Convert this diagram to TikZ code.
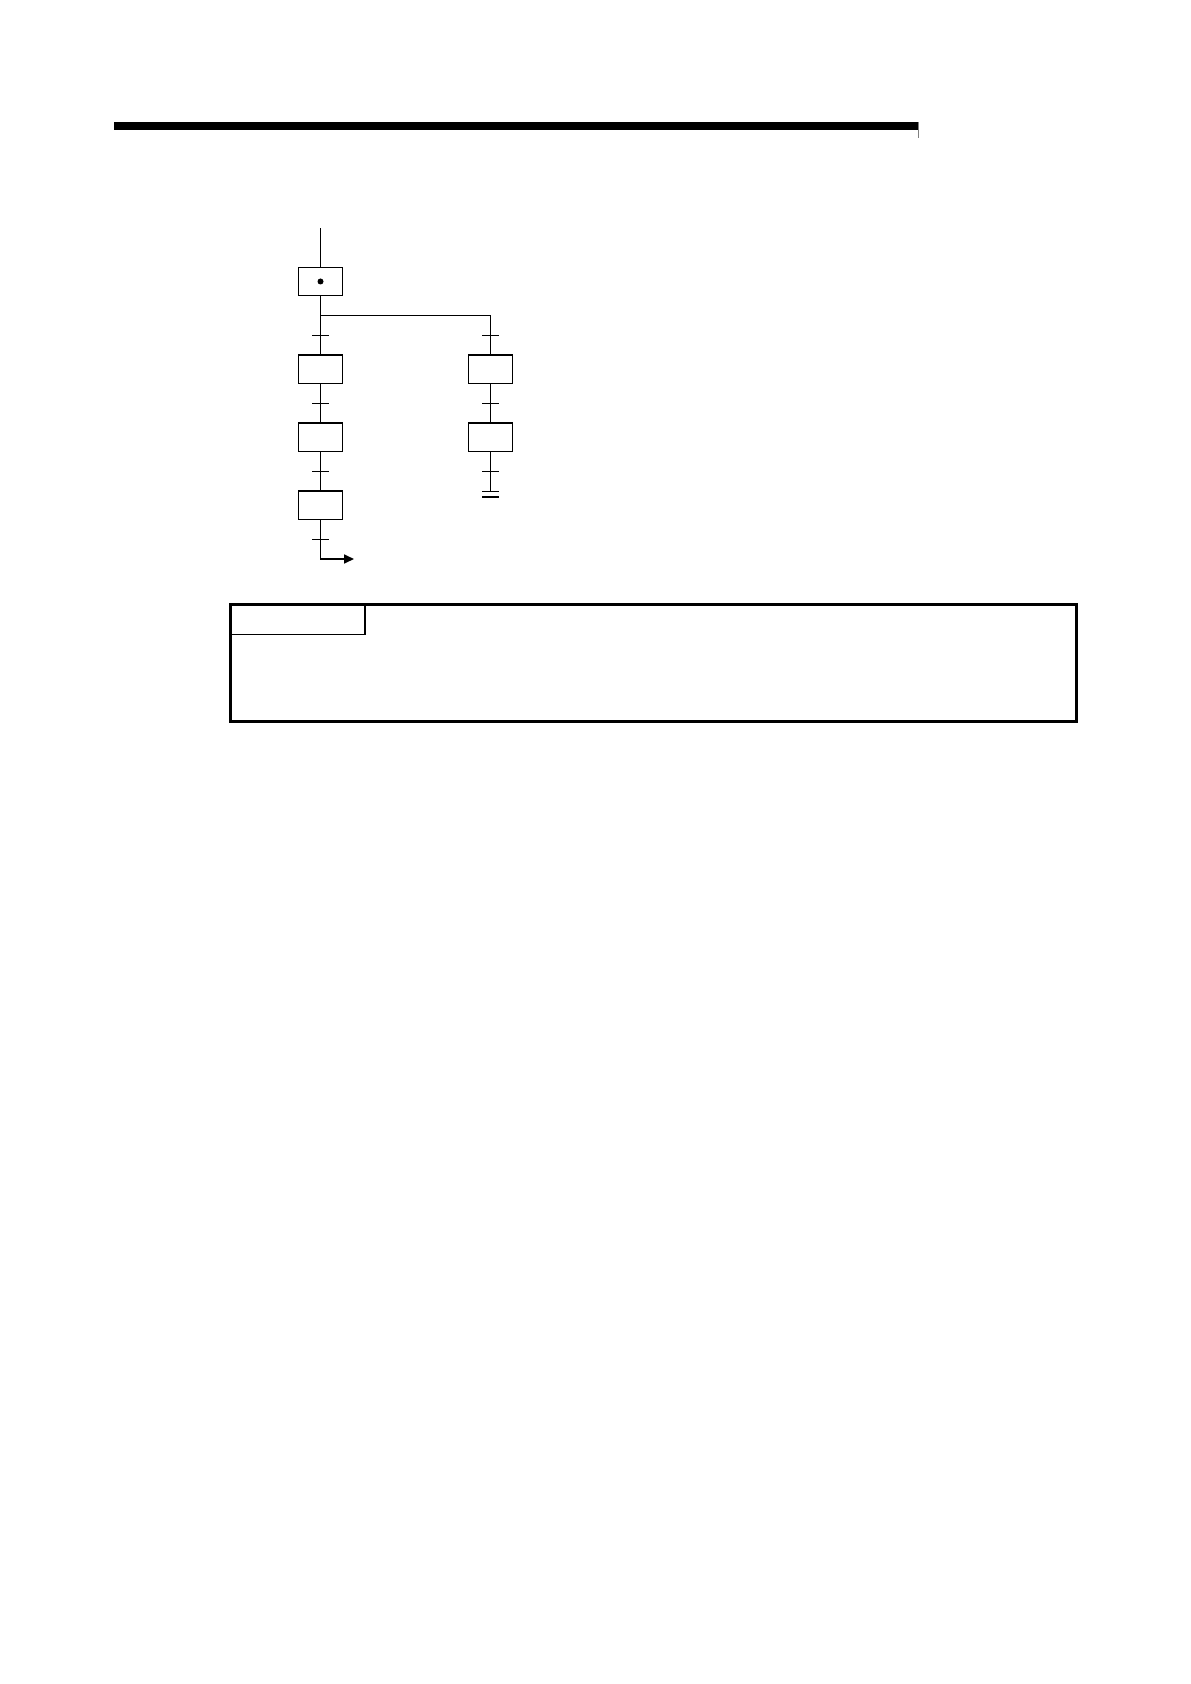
\documentclass[tikz,border=0pt]{standalone}
\usetikzlibrary{arrows.meta,calc}
\begin{document}
\begin{tikzpicture}[x=0.5pt,y=-0.5pt,
  stepbox/.style={draw,line width=0.7pt,rectangle,minimum width=22.2pt,minimum height=14.2pt,inner sep=0pt},
  link/.style={line width=0.75pt},
  tick/.style={line width=0.7pt}]
\useasboundingbox (0,0) rectangle (1190,1684);
% header bar
\fill (114,122) rectangle (918.3,130);
\draw[line width=0.5pt,gray] (918.5,122) -- (918.5,138.3);
% steps
\node[stepbox] (init) at (320.5,281.5) {};
\fill (init.center) circle [radius=1.5pt];
\node[stepbox] (s1) at (320.5,369.2) {};
\node[stepbox] (s2) at (320.5,437.2) {};
\node[stepbox] (s3) at (320.5,505.2) {};
\node[stepbox] (r1) at (490.5,369.2) {};
\node[stepbox] (r2) at (490.5,437.2) {};
% coordinates
\coordinate (top) at (320.5,228.3);
\coordinate (br) at (320.5,315.3);
\coordinate (rend) at (490.5,491.3);
\coordinate (lbend) at (320.5,559);
\coordinate (lend) at (354,559);
\foreach \n/\x/\y in {t1/320.5/335.3,t2/320.5/403.3,t3/320.5/471.2,t4/320.5/539.3,
                      u1/490.5/335.3,u2/490.5/403.3,u3/490.5/471.2}
  \coordinate (\n) at (\x,\y);
% connectors
\draw[link] (top) -- (init.north);
\draw[link] (init.south) -- (s1.north);
\draw[link] (br) -| (r1.north);
\draw[link] (s1.south) -- (s2.north);
\draw[link] (s2.south) -- (s3.north);
\draw[link] (r1.south) -- (r2.north);
\draw[link] (r2.south) -- (rend);
\draw[line width=0.85pt,-{Triangle[length=5pt,width=4.5pt]}] (s3.south) -- (lbend) -- (lend);
% transition ticks
\foreach \n in {t1,t2,t3,t4,u1,u2,u3}
  \draw[tick] ([xshift=-8.3*0.5pt]\n) -- ([xshift=8.3*0.5pt]\n);
% end bars
\draw[line width=0.7pt] ([xshift=-8.3*0.5pt]rend) -- ([xshift=8.3*0.5pt]rend);
\draw[line width=1.0pt] ($(rend)+(-8.3,5.4)$) -- ($(rend)+(8.3,5.4)$);
% bottom frame
\draw[line width=1.35pt] (230.7,604.3) rectangle (1076.7,721.3);
\draw[line width=0.85pt] (230.7,634.5) -- (365.3,634.5) -- (365.3,604.3);
\end{tikzpicture}
\end{document}
